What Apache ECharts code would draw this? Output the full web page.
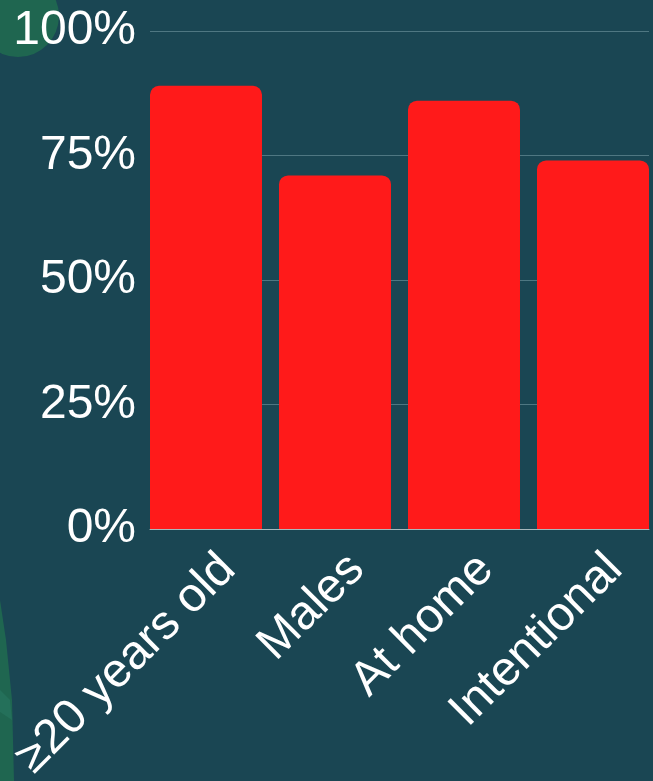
<!DOCTYPE html>
<html><head><meta charset="utf-8">
<script src="https://cdn.jsdelivr.net/npm/echarts@6/dist/echarts.min.js"></script>
<style>html,body{margin:0;padding:0;background:#1a4653;}#c{width:653px;height:781px;}</style>
</head><body><div id="c"></div>
<script>
const categories = ['≥20 years old', 'Males', 'At home', 'Intentional'];
const values = [89, 71, 86, 74];
const yTicks = [0, 25, 50, 75, 100];

const font = 'Liberation Sans, Arial, sans-serif';
const chart = echarts.init(document.getElementById('c'), null, {renderer: 'canvas'});
const hiddenY = {
  type: 'value', min: 0, max: 100, interval: 25,
  axisLine: {show: false}, axisTick: {show: false},
  splitLine: {show: false}, axisLabel: {show: false}
};
chart.setOption({
  backgroundColor: '#1a4653',
  animation: false,
  graphic: [
    {type: 'circle', shape: {cx: 18, cy: 16, r: 41}, style: {fill: '#1f6650'}, z: -10},
    {type: 'polygon', shape: {points: [[0, 600], [6, 640], [12, 700], [14, 781], [0, 781]]}, style: {fill: '#1f6650'}, z: -10},
    {type: 'polygon', shape: {points: [[0, 690], [10, 700], [12, 720], [0, 712]]}, style: {fill: '#24705a'}, z: -9}
  ],
  grid: [
    {left: 150, width: 499, top: 31, height: 498, containLabel: false, outerBoundsMode: 'none'},
    {left: 141.5, width: 516, top: 31, height: 498, containLabel: false, outerBoundsMode: 'none'},
    {left: 146.5, width: 516, top: 31, height: 498, containLabel: false, outerBoundsMode: 'none'}
  ],
  xAxis: [
    {
      type: 'category', gridIndex: 0, data: categories,
      axisLine: {show: true, lineStyle: {color: '#a7b7bc', width: 1}},
      axisTick: {show: false}, axisLabel: {show: false}, splitLine: {show: false}
    },
    {
      type: 'category', gridIndex: 1, data: categories,
      axisLine: {show: false}, axisTick: {show: false}, splitLine: {show: false},
      axisLabel: {show: false}
    },
    {
      type: 'category', gridIndex: 2, data: categories,
      axisLine: {show: false}, axisTick: {show: false}, splitLine: {show: false},
      axisLabel: {
        rotate: 45, interval: 0, color: '#ffffff', fontSize: 48,
        fontFamily: font, margin: 16, verticalAlign: 'top', align: 'right'
      }
    }
  ],
  yAxis: [
    {
      type: 'value', gridIndex: 0, min: 0, max: 100, interval: 25,
      axisLine: {show: false}, axisTick: {show: false},
      splitLine: {lineStyle: {color: '#4f7782', width: 1}},
      axisLabel: {
        color: '#ffffff', fontSize: 48, margin: 14, fontFamily: font,
        formatter: v => yTicks.includes(v) ? v + '%' : ''
      }
    },
    Object.assign({gridIndex: 1}, hiddenY),
    Object.assign({gridIndex: 2}, hiddenY)
  ],
  series: [{
    type: 'bar', xAxisIndex: 1, yAxisIndex: 1,
    data: values,
    barCategoryGap: '13.18%',
    itemStyle: {color: '#ff1a1a', borderRadius: [9, 9, 0, 0]}
  }]
});
</script></body></html>
